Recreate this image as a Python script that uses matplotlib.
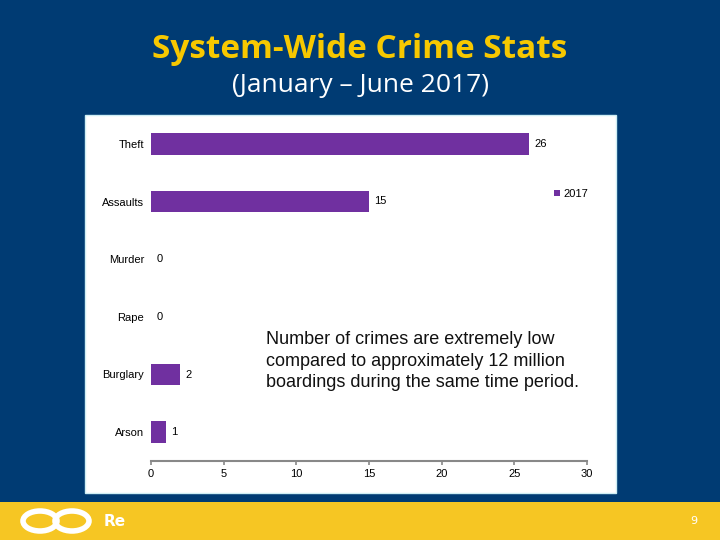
import matplotlib
matplotlib.use("Agg")
import matplotlib.pyplot as plt
from matplotlib.patches import Rectangle, Ellipse

categories = ["Theft", "Assaults", "Murder", "Rape", "Burglary", "Arson"]
values_2017 = [26, 15, 0, 0, 2, 1]
xticks = [0, 5, 10, 15, 20, 25, 30]

NAVY = "#003B73"
YELLOW = "#F6C623"
PURPLE = "#7030A0"

fig = plt.figure(figsize=(7.2, 5.4), dpi=100)
fig.patch.set_facecolor(NAVY)

# footer band and white panel (behind the axes)
fig.add_artist(Rectangle((0, 0), 1, 38 / 540, transform=fig.transFigure,
                         facecolor=YELLOW, edgecolor="none", zorder=-10))
fig.add_artist(Rectangle((85 / 720, 1 - 493 / 540), 531 / 720, 378 / 540,
                         transform=fig.transFigure, facecolor="white",
                         edgecolor="#CFEFF5", linewidth=1, zorder=-10))

# titles
fig.text(0.5, 1 - 49 / 540, "System-Wide Crime Stats", ha="center", va="center",
         color="#F7C800", fontsize=24, fontweight="bold", family="Open Sans")
fig.text(0.5, 1 - 85 / 540, "(January \u2013 June 2017)", ha="center", va="center",
         color="white", fontsize=19, family="Open Sans")

ax = fig.add_axes([151 / 720, 1 - 461 / 540, 436 / 720, 346 / 540])
ax.set_facecolor("none")
y = list(range(len(categories)))
bars = ax.barh(y, values_2017, height=0.38, color=PURPLE, label="2017")
ax.set_xlim(0, 30)
ax.set_ylim(5.5, -0.5)
ax.set_yticks(y)
ax.set_yticklabels(categories, fontsize=8, family="Liberation Sans")
ax.tick_params(axis="y", length=0, pad=5)
ax.set_xticks(xticks)
ax.set_xticklabels([str(t) for t in xticks], fontsize=8, family="Liberation Sans")
ax.tick_params(axis="x", direction="out", length=3, color="#888888", width=1.2, pad=3)
for s in ["top", "right", "left"]:
    ax.spines[s].set_visible(False)
ax.spines["bottom"].set_color("#888888")
ax.spines["bottom"].set_linewidth(1.5)

for yi, v in zip(y, values_2017):
    ax.annotate(str(v), (v, yi), xytext=(4, 0), textcoords="offset points",
                va="center", ha="left", fontsize=8, family="Liberation Sans")

ax.legend(loc="upper right", bbox_to_anchor=(1.025, 0.815), frameon=False,
          handlelength=0.5, handleheight=0.5, handletextpad=0.3,
          prop={"family": "Liberation Sans", "size": 8})

ax.text(0.264, 0.289, "Number of crimes are extremely low\ncompared to approximately 12 million\nboardings during the same time period.",
        transform=ax.transAxes, ha="left", va="center", fontsize=13,
        family="Liberation Sans", linespacing=1.35, color="#111111")

# footer logo and page number
fig.add_artist(Ellipse((40 / 720, 1 - 521 / 540), 34 / 720, 20 / 540,
                       transform=fig.transFigure, facecolor="none",
                       edgecolor="white", linewidth=4))
fig.add_artist(Ellipse((72 / 720, 1 - 521 / 540), 34 / 720, 20 / 540,
                       transform=fig.transFigure, facecolor="none",
                       edgecolor="white", linewidth=4))
fig.text(104 / 720, 1 - 521 / 540, "Re", color="white", fontsize=11,
         fontweight="bold", va="center", ha="left")
fig.text(694 / 720, 1 - 521 / 540, "9", color="white", fontsize=8,
         va="center", ha="center")

fig.savefig("out.png", dpi=100, facecolor=fig.get_facecolor())
